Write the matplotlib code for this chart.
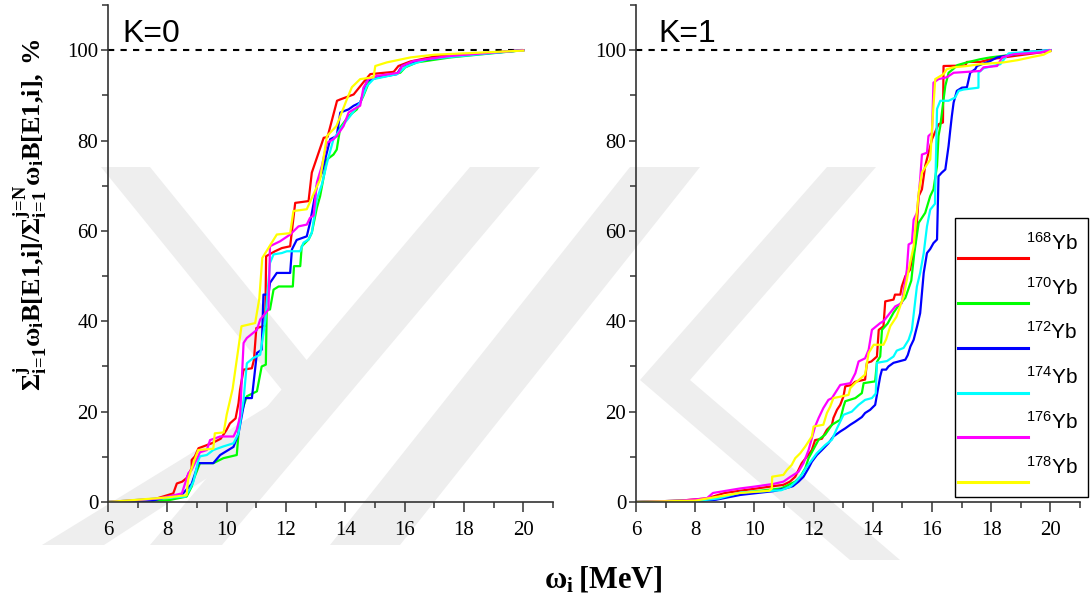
import numpy as np
import matplotlib.pyplot as plt
from matplotlib.patches import Polygon, Rectangle

plt.rcParams['font.family'] = ['Liberation Serif', 'DejaVu Serif']
plt.rcParams['mathtext.fontset'] = 'custom'
plt.rcParams['mathtext.bf'] = 'Liberation Serif:bold'
plt.rcParams['mathtext.rm'] = 'Liberation Serif'

isotopes = ['168', '170', '172', '174', '176', '178']
colors = ['#ff0000', '#00ff00', '#0000ff', '#00ffff', '#ff00ff', '#ffff00']

# K=0 : omega [MeV], cumulative sum [%]
k0_168_x = [6, 7.5, 8.2, 8.32, 8.5, 8.65, 8.82, 8.82, 8.93, 9.05, 9.5, 9.8, 10.0, 10.11, 10.3, 10.4, 10.45, 10.57, 10.85, 10.92, 11.0, 11.3, 11.33, 11.63, 11.86, 12.14, 12.31, 12.76, 12.87, 13.27, 13.4, 13.72, 13.83, 14.28, 14.61, 14.84, 15.63, 15.79, 16.19, 17.0, 18.5, 20.0]
k0_168_y = [0, 0.5, 1.9, 4.1, 4.5, 5.3, 7.5, 9.3, 10.1, 11.9, 13.0, 14.0, 16.0, 17.4, 18.5, 21.9, 24.8, 29.3, 29.6, 31.5, 38.5, 39.0, 54.4, 55.5, 56.2, 56.6, 66.2, 66.6, 72.9, 80.6, 80.8, 88.8, 89.1, 90.2, 92.9, 94.7, 95.2, 96.5, 97.5, 98.6, 99.2, 100]
k0_170_x = [6, 8.04, 8.65, 8.82, 8.88, 9.1, 9.55, 9.89, 10.34, 10.4, 10.45, 10.68, 11.02, 11.18, 11.32, 11.35, 11.46, 11.58, 11.75, 12.23, 12.27, 12.48, 12.53, 12.76, 12.87, 13.04, 13.15, 13.38, 13.6, 13.71, 13.83, 14.11, 14.39, 14.61, 14.84, 15.85, 16.02, 16.41, 17.54, 20.0]
k0_170_y = [0, 0.4, 1.2, 3.4, 4.9, 8.6, 8.6, 9.7, 10.4, 15.2, 18.9, 23.4, 24.5, 30.0, 30.4, 42.6, 42.6, 47.0, 47.7, 47.7, 52.2, 52.2, 56.6, 58.1, 59.6, 65.1, 67.7, 75.8, 76.9, 78.0, 82.9, 85.4, 86.9, 89.9, 93.6, 95.0, 96.2, 97.3, 98.4, 100]
k0_172_x = [6, 7.5, 8.04, 8.49, 8.82, 9.05, 9.55, 9.78, 10.23, 10.4, 10.62, 10.85, 11.02, 11.18, 11.24, 11.41, 11.46, 11.69, 12.14, 12.2, 12.36, 12.7, 12.81, 13.04, 13.21, 13.49, 13.71, 13.83, 14.11, 14.28, 14.5, 14.61, 14.73, 15.06, 15.74, 15.91, 16.41, 17.5, 20.0]
k0_172_y = [0, 0.3, 1.2, 1.6, 4.0, 8.6, 8.6, 10.4, 12.2, 15.2, 23.0, 23.0, 33.0, 33.7, 45.9, 45.9, 48.5, 50.7, 50.7, 55.9, 58.0, 58.8, 61.8, 70.0, 72.9, 80.3, 81.0, 86.2, 86.9, 87.7, 88.4, 90.6, 93.2, 93.9, 94.7, 96.5, 97.6, 98.6, 100]
k0_174_x = [6, 8.6, 8.77, 8.88, 9.05, 9.1, 9.33, 9.55, 9.89, 10.23, 10.4, 10.57, 10.68, 10.9, 11.13, 11.3, 11.46, 11.58, 11.86, 12.03, 12.48, 12.59, 12.76, 12.87, 13.04, 13.21, 13.38, 13.6, 13.83, 13.99, 14.16, 14.5, 14.73, 14.95, 15.74, 16.08, 16.75, 20.0]
k0_174_y = [0, 1.2, 3.0, 4.5, 9.3, 10.1, 10.4, 11.5, 12.3, 13.0, 15.2, 22.6, 30.7, 31.9, 32.6, 40.0, 52.9, 54.8, 55.1, 55.5, 55.5, 57.4, 58.1, 59.6, 67.0, 70.3, 75.0, 80.3, 82.5, 84.0, 85.4, 88.4, 92.1, 93.6, 94.7, 96.5, 98.0, 100]
k0_176_x = [6, 7.75, 8.49, 8.71, 8.82, 9.1, 9.33, 9.44, 9.78, 10.23, 10.34, 10.45, 10.57, 10.68, 11.02, 11.13, 11.41, 11.46, 11.58, 11.8, 12.14, 12.42, 12.7, 12.81, 12.93, 13.04, 13.21, 13.38, 13.6, 13.71, 13.94, 14.11, 14.28, 14.5, 14.61, 14.78, 15.06, 15.79, 15.91, 16.3, 17.5, 20.0]
k0_176_y = [0, 0.8, 1.9, 6.4, 7.1, 11.0, 11.5, 13.7, 14.5, 14.5, 16.0, 18.9, 35.2, 36.3, 38.1, 40.4, 42.6, 56.6, 57.0, 57.7, 59.2, 61.0, 61.4, 62.9, 63.4, 70.7, 74.4, 79.5, 80.3, 81.0, 83.2, 86.2, 86.9, 87.7, 91.7, 93.6, 94.3, 95.0, 96.5, 97.6, 98.7, 100]
k0_178_x = [6, 7.98, 8.65, 8.7, 8.9, 9.04, 9.55, 9.6, 9.9, 10.0, 10.2, 10.5, 10.96, 11.1, 11.2, 11.69, 12.14, 12.25, 12.7, 13.15, 13.38, 13.7, 14.05, 14.22, 14.5, 14.95, 15.01, 15.4, 16.2, 17.0, 20.0]
k0_178_y = [0, 1.0, 1.5, 5.0, 9.0, 11.5, 11.8, 15.2, 15.4, 19.3, 25.0, 38.9, 39.6, 45.0, 54.0, 59.2, 59.5, 64.4, 64.8, 71.4, 81.0, 83.2, 89.1, 91.8, 93.6, 94.0, 96.5, 97.3, 98.4, 99.0, 99.9]

# K=1
k1_168_x = [6, 7.5, 8.39, 9.0, 9.52, 10.64, 10.98, 11.2, 11.38, 11.49, 11.6, 11.77, 11.94, 12.05, 12.28, 12.45, 12.62, 12.67, 12.79, 12.9, 13.01, 13.07, 13.29, 13.4, 13.74, 13.8, 13.95, 14.14, 14.2, 14.36, 14.42, 14.7, 14.75, 14.93, 14.98, 15.1, 15.26, 15.32, 15.38, 15.45, 15.55, 15.66, 15.77, 16.0, 16.22, 16.37, 16.39, 17.13, 17.18, 17.63, 17.97, 20.0]
k1_168_y = [0, 0.3, 0.8, 2.0, 2.5, 3.5, 3.8, 4.5, 5.6, 7.1, 8.6, 10.0, 11.5, 13.7, 14.0, 16.0, 17.1, 18.6, 20.4, 21.5, 23.4, 25.6, 25.9, 26.6, 27.1, 30.8, 31.1, 32.2, 38.1, 38.9, 44.4, 44.8, 45.9, 45.9, 47.7, 50.0, 51.4, 53.7, 55.1, 58.0, 67.7, 69.2, 74.4, 80.3, 83.6, 84.0, 96.5, 96.6, 97.4, 97.4, 98.0, 99.8]
k1_170_x = [6, 8.5, 9.52, 10.9, 11.38, 11.55, 11.72, 11.83, 11.94, 12.17, 12.39, 12.62, 12.9, 13.01, 13.07, 13.41, 13.63, 13.69, 14.08, 14.14, 14.25, 14.31, 14.5, 14.7, 14.85, 15.1, 15.3, 15.4, 15.55, 15.77, 15.94, 16.05, 16.17, 16.22, 16.28, 16.39, 16.45, 16.56, 16.73, 16.86, 17.18, 17.63, 17.97, 20.0]
k1_170_y = [0, 0.5, 2.0, 3.0, 4.5, 5.6, 7.5, 9.7, 11.0, 13.8, 14.9, 17.1, 18.2, 21.1, 22.3, 23.0, 24.1, 26.3, 26.7, 31.0, 32.2, 38.1, 39.5, 41.9, 43.3, 45.2, 49.0, 55.0, 61.8, 64.0, 67.7, 69.2, 74.4, 81.0, 83.2, 89.1, 92.1, 95.0, 95.9, 96.7, 97.3, 98.0, 98.4, 100]
k1_172_x = [6, 8.0, 8.7, 9.52, 10.64, 11.04, 11.3, 11.49, 11.66, 11.83, 11.94, 12.11, 12.28, 12.5, 12.67, 12.9, 13.07, 13.24, 13.41, 13.63, 13.74, 13.91, 14.08, 14.25, 14.31, 14.45, 14.53, 14.7, 15.1, 15.18, 15.27, 15.38, 15.5, 15.6, 15.72, 15.83, 15.94, 16.05, 16.17, 16.22, 16.33, 16.45, 16.56, 16.62, 16.67, 16.73, 16.84, 17.01, 17.18, 17.29, 17.46, 17.52, 17.97, 18.2, 19.21, 20.0]
k1_172_y = [0, 0.2, 0.5, 1.56, 2.4, 3.0, 3.5, 4.5, 5.6, 7.5, 8.9, 10.4, 11.5, 13.0, 14.5, 15.6, 16.3, 17.1, 17.8, 18.8, 19.7, 20.4, 21.5, 27.8, 29.3, 29.3, 30.0, 30.8, 31.5, 32.5, 34.4, 35.9, 39.0, 41.8, 50.7, 55.1, 56.0, 57.3, 58.1, 72.1, 72.9, 73.6, 78.8, 82.5, 85.4, 88.4, 91.0, 91.7, 91.8, 95.0, 95.8, 96.5, 97.6, 98.4, 99.6, 100]
k1_174_x = [6, 8.0, 8.8, 9.52, 10.9, 11.21, 11.4, 11.6, 11.77, 11.94, 12.11, 12.39, 12.62, 12.79, 13.01, 13.29, 13.52, 13.74, 13.97, 14.1, 14.14, 14.48, 14.7, 14.81, 15.04, 15.21, 15.32, 15.49, 15.6, 15.72, 15.83, 15.94, 16.1, 16.17, 16.28, 16.56, 16.78, 16.9, 17.07, 17.57, 17.57, 17.74, 18.31, 18.48, 18.59, 20.0]
k1_174_y = [0, 0.2, 0.8, 2.1, 2.6, 3.4, 4.5, 6.0, 7.8, 9.3, 10.8, 12.6, 13.8, 16.3, 19.3, 20.0, 21.5, 22.6, 23.0, 24.0, 30.8, 31.2, 32.2, 33.5, 34.1, 35.9, 38.1, 47.7, 50.7, 55.1, 61.0, 64.7, 66.0, 87.0, 88.8, 88.8, 89.5, 91.0, 91.3, 91.7, 95.0, 96.0, 96.9, 98.4, 99.3, 100]
k1_176_x = [6, 7.5, 8.39, 8.6, 9.52, 10.0, 10.64, 10.98, 11.2, 11.49, 11.66, 11.83, 11.94, 12.05, 12.17, 12.33, 12.5, 12.62, 12.9, 13.24, 13.41, 13.52, 13.74, 13.86, 13.97, 14.25, 14.36, 14.48, 14.76, 14.98, 15.1, 15.15, 15.21, 15.32, 15.38, 15.49, 15.6, 15.66, 15.83, 15.88, 16.0, 16.05, 16.22, 16.5, 16.73, 17.63, 17.74, 18.2, 18.37, 18.76, 19.66, 20.0]
k1_176_y = [0, 0.3, 0.8, 2.0, 3.0, 3.4, 4.0, 4.5, 5.5, 6.7, 8.6, 11.5, 14.1, 16.7, 18.6, 20.8, 22.6, 23.0, 25.9, 26.3, 28.5, 31.1, 31.8, 33.7, 38.1, 39.6, 40.0, 41.0, 43.3, 44.0, 49.2, 51.4, 57.0, 57.4, 62.5, 64.0, 71.4, 76.9, 77.3, 81.0, 81.7, 92.8, 93.6, 94.0, 95.0, 95.4, 96.2, 96.5, 98.4, 99.1, 99.5, 100]
k1_178_x = [6, 8.0, 8.6, 9.52, 10.5, 10.59, 10.6, 10.98, 11.1, 11.26, 11.38, 11.55, 11.72, 11.94, 12.0, 12.33, 12.45, 12.56, 12.67, 13.18, 13.24, 13.4, 13.74, 13.86, 14.03, 14.36, 14.45, 14.59, 14.8, 15.04, 15.15, 15.26, 15.38, 15.55, 15.66, 15.83, 15.94, 16.0, 16.05, 16.11, 16.39, 16.5, 16.73, 17.18, 17.63, 18.42, 18.9, 19.32, 19.77, 20.0]
k1_178_y = [0, 0.3, 1.0, 2.0, 2.5, 3.0, 5.6, 6.0, 7.1, 8.2, 9.7, 10.8, 12.3, 14.5, 16.7, 17.1, 19.7, 21.1, 23.0, 23.7, 25.2, 26.3, 28.2, 33.0, 34.8, 34.8, 36.0, 38.9, 41.0, 45.5, 49.2, 52.9, 56.6, 68.4, 72.9, 74.7, 75.8, 82.5, 87.7, 93.6, 94.7, 95.8, 96.2, 96.5, 96.9, 97.3, 97.8, 98.4, 99.0, 99.8]

k0_x = [k0_168_x, k0_170_x, k0_172_x, k0_174_x, k0_176_x, k0_178_x]
k0_y = [k0_168_y, k0_170_y, k0_172_y, k0_174_y, k0_176_y, k0_178_y]
k1_x = [k1_168_x, k1_170_x, k1_172_x, k1_174_x, k1_176_x, k1_178_x]
k1_y = [k1_168_y, k1_170_y, k1_172_y, k1_174_y, k1_176_y, k1_178_y]

W, H = 1090, 608
fig = plt.figure(figsize=(W / 100, H / 100), dpi=100, facecolor='white')

# faint background watermark (pixel coords, y from top)
bands = [
    [(101, 167), (150, 167), (335, 395), (286, 395)],
    [(286, 395), (335, 395), (104, 545), (42, 545)],
    [(150, 545), (222, 545), (540, 167), (470, 167)],
    [(330, 545), (400, 545), (700, 167), (630, 167)],
    [(640, 380), (690, 380), (876, 167), (827, 167)],
    [(640, 380), (690, 380), (900, 560), (850, 560)],
]
for b in bands:
    pts = [(x / W, 1 - y / H) for x, y in b]
    fig.patches.append(Polygon(pts, closed=True, transform=fig.transFigure,
                               facecolor='#eeeeee', edgecolor='none', zorder=-5))

ax0 = fig.add_axes([108 / W, 106 / H, 445 / W, 497 / H])
ax1 = fig.add_axes([636 / W, 106 / H, 444 / W, 497 / H])

for ax, xs, ys, title, tx in [(ax0, k0_x, k0_y, 'K=0', 6.5), (ax1, k1_x, k1_y, 'K=1', 6.74)]:
    ax.set_facecolor('none')
    ax.set_zorder(2)
    for x, y, c in zip(xs, ys, colors):
        ax.plot(x, y, color=c, lw=1.6)
    ax.plot([6, 20], [100, 100], color='black', lw=1.5, ls=(0, (3, 3)), zorder=1)
    ax.text(tx, 101.8, title, family='Liberation Sans', fontsize=23, va='baseline')
    ax.set_xlim(6, 21)
    ax.set_ylim(0, 110)
    ax.set_xticks(np.arange(6, 21, 2))
    ax.set_xticks(np.arange(7, 22, 2), minor=True)
    ax.set_yticks(np.arange(0, 101, 20))
    ax.set_yticks(np.arange(10, 111, 20), minor=True)
    for s in ['top', 'right']:
        ax.spines[s].set_visible(False)
    for s in ['left', 'bottom']:
        ax.spines[s].set_color('#333333')
        ax.spines[s].set_linewidth(1.2)
    ax.tick_params(axis='x', which='major', length=7, width=1.1, color='#333333', labelsize=15, pad=7)
    ax.tick_params(axis='x', which='minor', length=4, width=1.1, color='#333333')
    ax.tick_params(axis='y', which='major', length=5, width=1.1, color='#333333', labelsize=15, pad=2)
    ax.tick_params(axis='y', which='minor', length=4, width=1.1, color='#333333')

# legend box drawn inside the K=1 panel
ax1.add_patch(Rectangle((0.7185, 0.010), 0.2995, 0.561, transform=ax1.transAxes,
                        facecolor='white', edgecolor='black', lw=1.0, clip_on=False, zorder=5))
for i, (iso, c) in enumerate(zip(isotopes, colors)):
    ly = 0.49 - 0.09 * i
    ax1.plot([0.725, 0.883], [ly, ly], color=c, lw=2.2, transform=ax1.transAxes,
             clip_on=False, zorder=6)
    ax1.text(0.995, ly + 0.0175, r'$\mathregular{^{%s}}$Yb' % iso, transform=ax1.transAxes,
             family='Liberation Sans', fontsize=15, ha='right', va='baseline', zorder=6)

fig.text(31 / W, 1 - 215 / H,
         r'$\mathbf{Σ^{j}_{i\!=\!1}ω_{i}B[E1{,}i]/Σ^{j\!=\!N}_{i\!=\!1}ω_{i}B[E1{,}i]{,}\ \%}$',
         rotation=90, ha='center', va='center', fontsize=19)
fig.text(603 / W, 1 - 580 / H, r'$\mathbf{ω_{i}\,[MeV]}$', ha='center', va='center',
         fontsize=22)

fig.savefig('out.png', dpi=100)
